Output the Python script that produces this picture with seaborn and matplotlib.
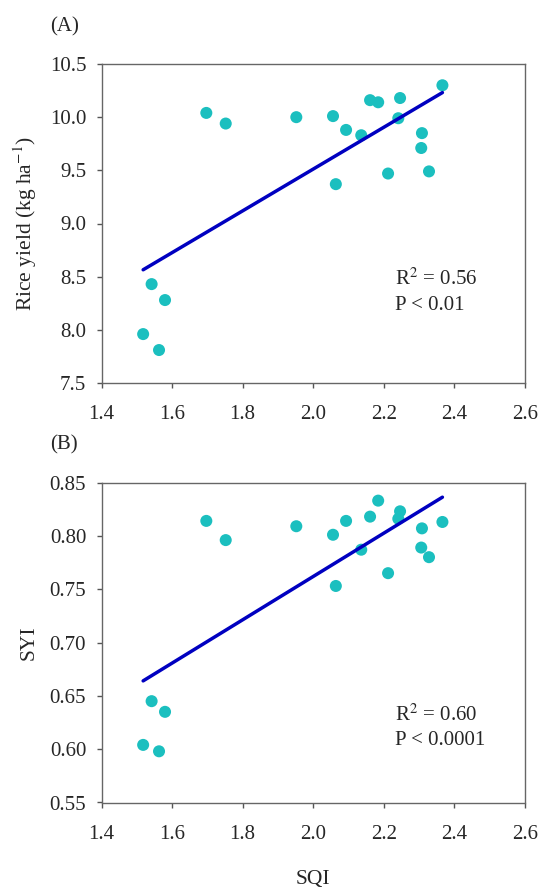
import numpy as np
import pandas as pd
import seaborn as sns
import matplotlib.pyplot as plt

# SQI values (shared by both panels)
sqi = [1.518, 1.542, 1.563, 1.580, 1.697, 1.752, 1.952, 2.056, 2.064, 2.093,
       2.136, 2.161, 2.184, 2.212, 2.241, 2.246, 2.308, 2.306, 2.328, 2.366]
rice_yield = [7.96, 8.43, 7.81, 8.28, 10.04, 9.94, 10.00, 10.01, 9.37, 9.88,
              9.83, 10.16, 10.14, 9.47, 9.99, 10.18, 9.85, 9.71, 9.49, 10.30]
syi = [0.604, 0.645, 0.598, 0.635, 0.814, 0.796, 0.809, 0.801, 0.753, 0.814,
       0.787, 0.818, 0.833, 0.765, 0.816, 0.823, 0.807, 0.789, 0.780, 0.813]

df = pd.DataFrame({'SQI': sqi, 'yield': rice_yield, 'SYI': syi})

sns.set_style('ticks')
plt.rcParams['font.family'] = ['Liberation Serif', 'DejaVu Serif']
plt.rcParams['mathtext.fontset'] = 'stix'

pt_col = '#1bbfbf'
ln_col = '#0000c0'

fig = plt.figure(figsize=(5.5, 8.89), dpi=100)
axA = fig.add_axes([101.5/550, 1-383/889, 423.5/550, 319/889])
axB = fig.add_axes([101.5/550, 1-802.5/889, 423.5/550, 320/889])

# ax, column, ylabel, ylim, yticks, fmt, tag, stats lines, baselines
panels = [
    (axA, 'yield', 'Rice yield (kg ha$^{-1}$)', (7.5, 10.5), np.arange(7.5, 10.51, 0.5),
     '{:.1f}', '(A)', ['R$^2$ = 0.56', 'P < 0.01'], [8.42, 8.185]),
    (axB, 'SYI', 'SYI', (0.55, 0.85), np.arange(0.55, 0.851, 0.05),
     '{:.2f}', '(B)', ['R$^2$ = 0.60', 'P < 0.0001'], [0.627, 0.6035]),
]

for ax, col, ylab, ylim, yt, fmt, tag, lines, ys in panels:
    sns.regplot(data=df, x='SQI', y=col, ax=ax, ci=None,
                scatter_kws=dict(s=75, color=pt_col, edgecolor='none', alpha=1, zorder=3),
                line_kws=dict(color=ln_col, lw=2.5, zorder=4))
    ax.set_xlim(1.4, 2.6)
    ax.set_ylim(*ylim)
    xt = np.arange(1.4, 2.61, 0.2)
    ax.set_xticks(xt)
    ax.set_xticklabels(['{:.1f}'.format(v) for v in xt])
    ax.set_yticks(yt)
    ax.set_yticklabels([fmt.format(v) for v in yt])
    ax.tick_params(labelsize=15, length=3.5, width=1, color='#555555', direction='out')
    ax.tick_params(axis='x', pad=12.5)
    ax.tick_params(axis='y', pad=7.5)
    for s in ax.spines.values():
        s.set_color('#666666')
        s.set_linewidth(1)
    ax.set_ylabel(ylab, fontsize=15.5, labelpad=8)
    ax.set_xlabel('')
    for t, y in zip(lines, ys):
        ax.text(2.233, y, t, fontsize=15, va='baseline')
    ax.text(-0.122, 1.103, tag, transform=ax.transAxes, fontsize=15, va='baseline')

axB.set_xlabel('SQI', fontsize=15.5, labelpad=19)

fig.savefig('out.png', dpi=100)
